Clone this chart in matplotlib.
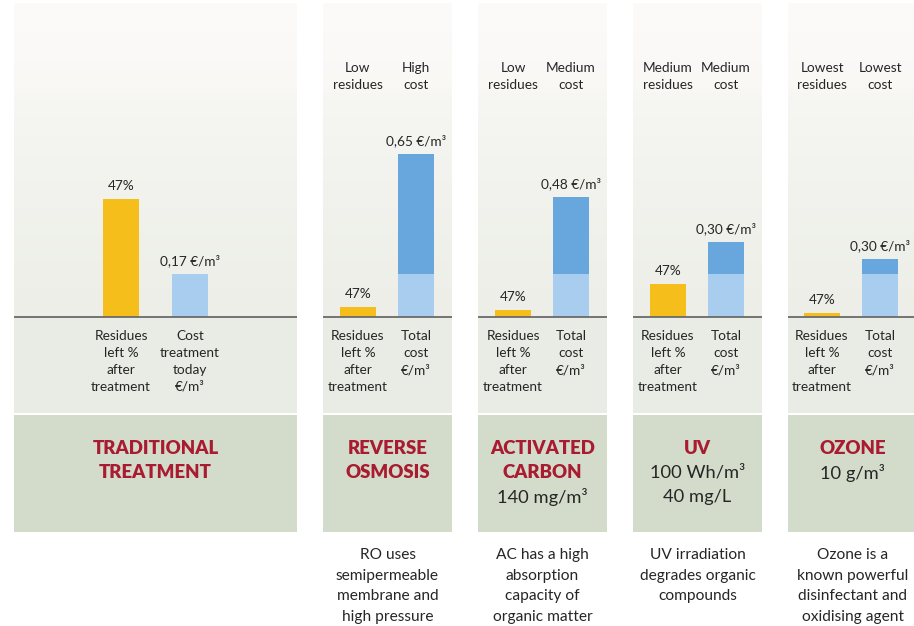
import matplotlib
matplotlib.use("Agg")
import matplotlib.pyplot as plt
import numpy as np
from matplotlib.colors import to_rgb
from matplotlib.patches import Rectangle

plt.rcParams['font.family'] = ['Lato', 'DejaVu Sans']

# ---------------- data ----------------
categories = ["TRADITIONAL\nTREATMENT", "REVERSE\nOSMOSIS", "ACTIVATED\nCARBON", "UV", "OZONE"]
subtitles = ["", "", "140 mg/m³", "100 Wh/m³\n40 mg/L", "10 g/m³"]
residues = [0.47, 0.04, 0.028, 0.13, 0.016]          # bar heights (same scale as €/m³)
residue_labels = ["47%", "47%", "47%", "47%", "47%"]
base_cost = [0.17, 0.17, 0.17, 0.17, 0.17]
extra_cost = [0.0, 0.48, 0.31, 0.13, 0.06]
cost_labels = ["0,17 €/m³", "0,65 €/m³", "0,48 €/m³", "0,30 €/m³", "0,30 €/m³"]
top_left = ["", "Low\nresidues", "Low\nresidues", "Medium\nresidues", "Lowest\nresidues"]
top_right = ["", "High\ncost", "Medium\ncost", "Medium\ncost", "Lowest\ncost"]
bottom_left = ["Residues\nleft %\nafter\ntreatment"] * 5
bottom_right = ["Cost\ntreatment\ntoday\n€/m³", "Total\ncost\n€/m³", "Total\ncost\n€/m³",
                "Total\ncost\n€/m³", "Total\ncost\n€/m³"]
descriptions = ["", "RO uses\nsemipermeable\nmembrane and\nhigh pressure",
                "AC has a high\nabsorption\ncapacity of\norganic matter",
                "UV irradiation\ndegrades organic\ncompounds",
                "Ozone is a\nknown powerful\ndisinfectant and\noxidising agent"]

# ---------------- layout (pixels) ----------------
W, H = 914, 626
panels = [(14, 297, 121, 190), (323, 452, 358, 416), (478, 607, 513, 571),
          (633, 762, 668, 726), (788, 917, 822, 880)]
TOP, BASE, CHART_BOTTOM, BOX_TOP, BOX_BOTTOM = 3, 317, 413, 415, 532
PX_PER_UNIT = 251
BAR_W = 36

YELLOW = "#F5BE1B"
LBLUE = "#A9CDEF"
DBLUE = "#68A7DE"
RED = "#A81B30"
GREEN = "#D3DCCA"
BELOW = "#E9ECE4"
TXT = "#262626"
FS = 9.8
LS = 1.42
LS_BOT = 1.48

fig = plt.figure(figsize=(W / 100, H / 100), dpi=100)
fig.patch.set_facecolor("white")


def fx(x):
    return x / W


def fy(y):
    return 1 - y / H


# gradient for chart background
stops = [(0.0, "#FDFBFA"), (0.27, "#F9F8F5"), (0.30, "#F6F6F2"), (1.0, "#ECEEE7")]
n = 200
t = np.linspace(0, 1, n)
grad = np.zeros((n, 1, 3))
for c in range(3):
    grad[:, 0, c] = np.interp(t, [s[0] for s in stops], [to_rgb(s[1])[c] for s in stops])

for i, (L, R, b0, b1) in enumerate(panels):
    ax = fig.add_axes([fx(L), fy(CHART_BOTTOM), (R - L) / W, (CHART_BOTTOM - TOP) / H])
    step = b1 - b0
    x0, x1 = (L - b0) / step, (R - b0) / step
    y0, y1 = -(CHART_BOTTOM - BASE) / PX_PER_UNIT, (BASE - TOP) / PX_PER_UNIT
    ax.imshow(grad, extent=(x0, x1, 0, y1), aspect='auto', zorder=0,
              interpolation='bilinear', origin='upper')
    ax.axhspan(y0, 0, color=BELOW, zorder=0, lw=0)
    ax.set_xlim(x0, x1)
    ax.set_ylim(y0, y1)
    ax.axis('off')

    w = BAR_W / step
    ax.bar(0, residues[i], width=w, color=YELLOW, zorder=2, lw=0)
    ax.bar(1, base_cost[i], width=w, color=LBLUE, zorder=2, lw=0)
    if extra_cost[i] > 0:
        ax.bar(1, extra_cost[i], bottom=base_cost[i], width=w, color=DBLUE, zorder=2, lw=0)
    ax.axhline(0, color='#6a6a6a', lw=1.3, zorder=3)

    total = base_cost[i] + extra_cost[i]
    ax.annotate(residue_labels[i], (0, residues[i]), xytext=(0, 9.5),
                textcoords='offset points', ha='center', va='center', fontsize=FS, color=TXT)
    ax.annotate(cost_labels[i], (1, total), xytext=(0, 9.5),
                textcoords='offset points', ha='center', va='center', fontsize=FS, color=TXT)

    ytop_lbl = (BASE - 76.5) / PX_PER_UNIT
    if top_left[i]:
        ax.text(0, ytop_lbl, top_left[i], ha='center', va='center', fontsize=FS,
                color=TXT, linespacing=LS)
        ax.text(1, ytop_lbl, top_right[i], ha='center', va='center', fontsize=FS,
                color=TXT, linespacing=LS)
    ybot_lbl = -(330.5 - BASE) / PX_PER_UNIT
    ax.text(0, ybot_lbl, bottom_left[i], ha='center', va='top', fontsize=FS,
            color=TXT, linespacing=LS_BOT)
    ax.text(1, ybot_lbl, bottom_right[i], ha='center', va='top', fontsize=FS,
            color=TXT, linespacing=LS_BOT)

    # header box
    fig.patches.append(Rectangle((fx(L), fy(BOX_BOTTOM)), (R - L) / W, (BOX_BOTTOM - BOX_TOP) / H,
                                 transform=fig.transFigure, facecolor=GREEN, edgecolor='none'))
    cx = fx((L + R) / 2)
    k = 0
    for line in categories[i].split("\n"):
        fig.text(cx, fy(448 + 24.5 * k), line, ha='center', va='center', fontsize=13.4,
                 fontweight='heavy', color=RED)
        k += 1
    if subtitles[i]:
        for line in subtitles[i].split("\n"):
            fig.text(cx, fy(448 + 24.5 * k), line, ha='center', va='center', fontsize=13.2,
                     color=TXT)
            k += 1
    if descriptions[i]:
        for j, line in enumerate(descriptions[i].split("\n")):
            fig.text(cx, fy(555 + 20.7 * j), line, ha='center', va='center', fontsize=11.2,
                     color=TXT)

fig.savefig("out.png", dpi=100)
